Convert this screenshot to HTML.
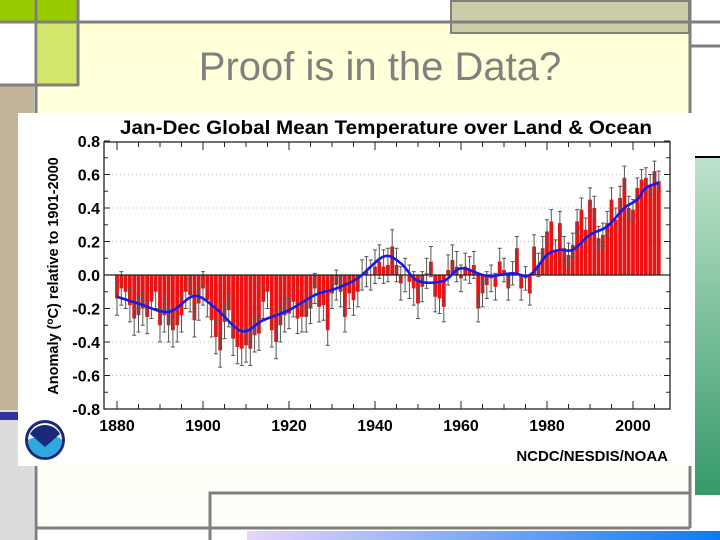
<!DOCTYPE html>
<html><head><meta charset="utf-8">
<style>
html,body{margin:0;padding:0;}
body{width:720px;height:540px;position:relative;overflow:hidden;background:#fff;font-family:"Liberation Sans",sans-serif;}
.abs{position:absolute;}
</style></head>
<body>
<div class="abs" style="left:36px;top:22px;width:654px;height:506px;background:linear-gradient(#ffffd6 0%,#fffff0 60%,#fffffa 100%);"></div>
<div class="abs" style="left:0;top:0;width:78px;height:22px;background:#99cc00;"></div>
<div class="abs" style="left:38px;top:22px;width:40px;height:62px;background:#d4e66a;"></div>
<div class="abs" style="left:0;top:86px;width:34px;height:324px;background:#c4b59a;"></div>
<div class="abs" style="left:0;top:410px;width:34px;height:130px;background:#dcdcdc;"></div>
<div class="abs" style="left:0;top:412px;width:18px;height:8px;background:#333399;"></div>
<div class="abs" style="left:450px;top:0;width:240px;height:34px;background:#cccca8;border:2px solid #7f7f7f;box-sizing:border-box;"></div>
<div class="abs" style="left:695px;top:156px;width:25px;height:337px;background:linear-gradient(#bfe3cc,#35996a);border-top:2px solid #000;"></div>
<div class="abs" style="left:247px;top:531px;width:473px;height:9px;background:linear-gradient(90deg,#e8d4fa,#0a7cf0);"></div>
<svg class="abs" style="left:0;top:0" width="720" height="540">
<g stroke="#7f7f7f" stroke-width="3" fill="none">
<line x1="0" y1="22" x2="720" y2="22"/>
<line x1="78" y1="0" x2="78" y2="86"/>
<line x1="0" y1="85" x2="78" y2="85"/>
<line x1="36" y1="0" x2="36" y2="540"/>
<line x1="690" y1="0" x2="690" y2="528"/>
<line x1="690" y1="46" x2="720" y2="46"/>
<line x1="36" y1="528" x2="690" y2="528"/>
<polyline points="210,540 210,493 690,493"/>
</g>
</svg>
<div class="abs" style="left:70px;top:45px;width:620px;text-align:center;font-size:40px;color:#808080;">Proof is in the Data?</div>

<div class="abs" style="left:18px;top:113px;width:677px;height:353px;background:#fff;"></div>
<svg class="abs" id="chart" style="left:0;top:0" width="720" height="540"></svg>

<script>
const years=[];for(let y=1880;y<=2006;y++)years.push(y);
const anomalies=[
-0.14,-0.08,-0.10,-0.18,-0.26,-0.24,-0.20,-0.25,-0.16,-0.10,
-0.30,-0.24,-0.30,-0.33,-0.30,-0.24,-0.10,-0.12,-0.27,-0.17,
-0.08,-0.15,-0.27,-0.37,-0.45,-0.28,-0.21,-0.38,-0.43,-0.44,
-0.42,-0.44,-0.36,-0.35,-0.16,-0.10,-0.33,-0.40,-0.30,-0.24,
-0.23,-0.16,-0.26,-0.25,-0.25,-0.20,-0.08,-0.19,-0.18,-0.33,
-0.11,-0.06,-0.10,-0.25,-0.11,-0.15,-0.10,0.00,0.02,0.00,
0.05,0.08,0.05,0.06,0.17,0.06,-0.05,0.00,-0.04,-0.08,
-0.17,-0.07,0.01,0.08,-0.13,-0.14,-0.19,0.03,0.09,0.05,
-0.02,0.05,0.03,0.06,-0.20,-0.11,-0.06,-0.02,-0.07,0.08,
0.03,-0.08,0.01,0.16,-0.08,-0.02,-0.11,0.17,0.06,0.16,
0.26,0.32,0.14,0.31,0.16,0.12,0.18,0.32,0.39,0.27,
0.45,0.40,0.22,0.24,0.31,0.45,0.33,0.46,0.58,0.40,
0.39,0.52,0.57,0.58,0.54,0.62,0.56];
const errorDecades=[1880,1890,1900,1910,1920,1930,1940,1950,1960,1970,1980,1990,2000];
const errorSize=[0.10,0.10,0.10,0.10,0.09,0.09,0.10,0.09,0.08,0.07,0.07,0.07,0.06];
const smoothYears=[1880,1885,1892,1898,1903,1909,1914,1920,1926,1931,1936,1942,1946,1950,1956,1960,1966,1972,1976,1980,1983,1986,1990,1994,1998,2001,2003,2006];
const smoothVals=[-0.13,-0.17,-0.22,-0.125,-0.20,-0.335,-0.27,-0.21,-0.12,-0.08,-0.02,0.11,0.07,-0.035,-0.035,0.04,-0.005,0.01,0.0,0.12,0.15,0.15,0.24,0.29,0.40,0.45,0.52,0.55];
const yTicks=[0.8,0.6,0.4,0.2,0.0,-0.2,-0.4,-0.6,-0.8];
const xTicks=[1880,1900,1920,1940,1960,1980,2000];

const L=104,R=670,T=142,B=409;
const xs=yr=>117+(yr-1880)*4.3;
const ys=v=>275-v*167.5;
const NS='http://www.w3.org/2000/svg';
const svg=document.getElementById('chart');
function mk(t,a,parent){const e=document.createElementNS(NS,t);for(const k in a)e.setAttribute(k,a[k]);(parent||svg).appendChild(e);return e;}

const title=mk('text',{x:120,y:134,'font-size':'19','font-weight':'bold','font-family':'Liberation Sans, sans-serif',fill:'#000',textLength:532,lengthAdjust:'spacingAndGlyphs'});
title.textContent='Jan-Dec Global Mean Temperature over Land & Ocean';



yTicks.forEach(v=>{
  if(Math.abs(v)<1e-9||Math.abs(v)>0.79)return;
  const g=mk('line',{x1:L,x2:R,y1:ys(v),y2:ys(v),stroke:'#bbb','stroke-width':1,'stroke-dasharray':'1,3'});
  
  
});

years.forEach((yr,i)=>{
  const v=anomalies[i];const x=xs(yr);
  const b=mk('rect',{x:x-1.9,width:3.8,y:Math.min(ys(v),ys(0)),height:Math.abs(ys(v)-ys(0)),fill:'#ee1111'});
  
  
  const e=errorSize[Math.min(12,Math.floor((yr-1880)/10))];
  const eb=mk('path',{d:`M${x},${ys(v+e)}V${ys(v-e)}M${x-2},${ys(v+e)}H${x+2}M${x-2},${ys(v-e)}H${x+2}`,stroke:'#555','stroke-width':1,fill:'none'});
  
  
});

const z=mk('line',{x1:L,x2:R,y1:ys(0),y2:ys(0),stroke:'#222','stroke-width':1.3});



const pts=smoothYears.map((y,i)=>[xs(y),ys(smoothVals[i])]);
let d='M'+pts[0][0]+','+pts[0][1];
for(let i=0;i<pts.length-1;i++){
  const p0=pts[Math.max(0,i-1)],p1=pts[i],p2=pts[i+1],p3=pts[Math.min(pts.length-1,i+2)];
  d+=`C${p1[0]+(p2[0]-p0[0])/6},${p1[1]+(p2[1]-p0[1])/6} ${p2[0]-(p3[0]-p1[0])/6},${p2[1]-(p3[1]-p1[1])/6} ${p2[0]},${p2[1]}`;
}
const sl=mk('path',{d:d,stroke:'#1a1ae6','stroke-width':2.6,fill:'none'});



const fr=mk('rect',{x:L,y:T,width:R-L,height:B-T,fill:'none',stroke:'#222','stroke-width':1.3});



for(let k=-8;k<=8;k++){
  const v=k/10,big=k%2===0,len=big?6:4;
  mk('line',{x1:L,x2:L+len,y1:ys(v),y2:ys(v),stroke:'#222'});
  mk('line',{x1:R,x2:R-len,y1:ys(v),y2:ys(v),stroke:'#222'});
}
yTicks.forEach(v=>{
  const t=mk('text',{x:L-4,y:ys(v)+6,'text-anchor':'end','font-size':'16','font-weight':'bold','font-family':'Liberation Sans, sans-serif'});
  t.textContent=v.toFixed(1);
  
  
});
for(let y=1880;y<=2005;y+=5){
  const len=y%20===0?8:5;
  mk('line',{x1:xs(y),x2:xs(y),y1:B,y2:B-len,stroke:'#222'});
  mk('line',{x1:xs(y),x2:xs(y),y1:T,y2:T+len,stroke:'#222'});
}
xTicks.forEach(y=>{
  const t=mk('text',{x:xs(y),y:431,'text-anchor':'middle','font-size':'16','font-weight':'bold','font-family':'Liberation Sans, sans-serif'});
  t.textContent=y;
  
  
});
const yl=mk('text',{x:0,y:0,transform:'translate(58,276) rotate(-90)','text-anchor':'middle','font-size':'14.5','font-weight':'bold','font-family':'Liberation Sans, sans-serif'});
yl.innerHTML='Anomaly (<tspan dy="-5" font-size="10">o</tspan><tspan dy="5">C) relative to 1901-2000</tspan>';



const cr=mk('text',{x:668,y:461,'text-anchor':'end','font-size':'15','font-weight':'bold','font-family':'Liberation Sans, sans-serif'});
cr.textContent='NCDC/NESDIS/NOAA';



const lg=mk('g',{});


mk('circle',{cx:45,cy:440,r:20,fill:'#1a2a7a'},lg);
mk('circle',{cx:45,cy:440,r:17,fill:'#fff'},lg);
mk('path',{d:'M28,440 A17,17 0 0 0 62,440 Q55,432 45,446 Q37,434 28,440Z',fill:'#2fa8e0'},lg);
mk('path',{d:'M30,434 A17,17 0 0 1 60,434 L45,447 Z',fill:'#1a2a7a'},lg);
</script>
</body></html>
